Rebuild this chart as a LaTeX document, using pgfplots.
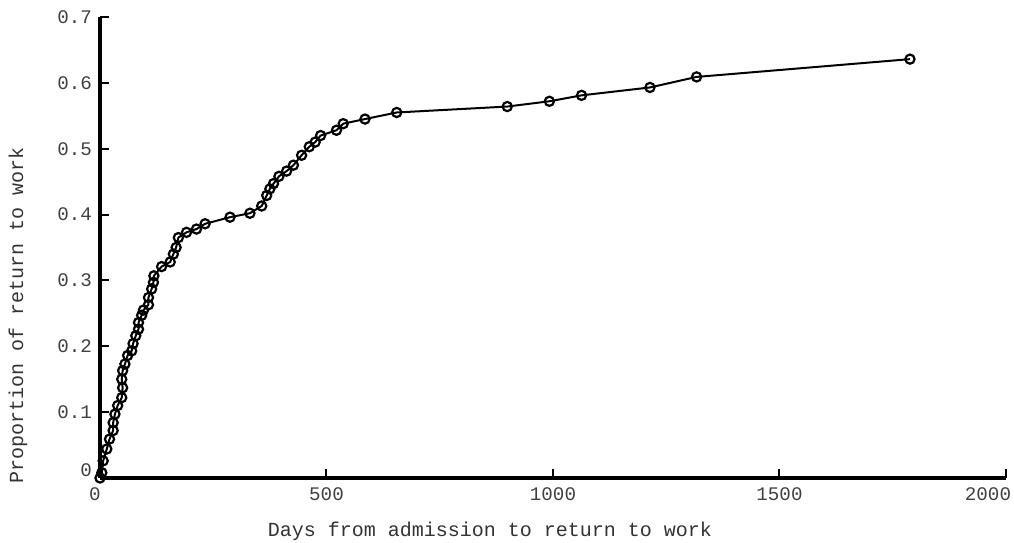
\documentclass[border=0pt]{standalone}
\usepackage{pgfplots}
\pgfplotsset{compat=1.18}
\usepackage{fontspec}
\setmainfont{Liberation Mono}
\setmonofont{Liberation Mono}
\begin{document}
\begin{tikzpicture}
\begin{axis}[
  scale only axis,
  width=453pt, height=230.5pt,
  xmin=0, xmax=2000, ymin=0, ymax=0.7,
  axis lines=left,
  axis line style={-, line width=1.6pt},
  tick style={line width=1pt, black},
  tick align=inside,
  major tick length=4.5pt,
  xtick={0,500,1000,1500,2000},
  xticklabels={\hspace*{-5pt}0,500,1000,1500,\hspace*{-18pt}2000},
  ytick={0,0.1,0.2,0.3,0.4,0.5,0.6,0.7},
  yticklabels={\raisebox{8pt}{0},0.1,0.2,0.3,0.4,0.5,0.6,0.7},
  /pgf/number format/assume math mode=true,
  ticklabel style={font=\fontsize{9.6}{11}\selectfont, text=black!75},
  xticklabel style={yshift=-1.4pt},
  yticklabel style={xshift=-0.5pt},
  xlabel={Days from admission to return to work},
  ylabel={Proportion of return to work},
  label style={font=\fontsize{10}{12}\selectfont, text=black!80},
  xlabel style={at={(axis description cs:0.4305,-0.115)}, anchor=center},
  ylabel style={at={(axis description cs:-0.0905,0.3536)}, anchor=center},
  clip=false,
]
\addplot[black, line width=1pt, mark=o, mark size=2.3pt,
  mark options={fill=white, line width=1.1pt, solid}]
coordinates {
(0,0) (4,0.008) (7,0.026) (15,0.044) (21,0.059) (29,0.072) (29,0.084)
(33,0.097) (39,0.110) (48,0.122) (50,0.137) (48,0.150) (50,0.163)
(55,0.173) (61,0.186) (70,0.193) (73,0.204) (79,0.216) (85,0.226)
(85,0.236) (92,0.247) (96,0.255) (107,0.263) (107,0.274) (114,0.287)
(118,0.297) (119,0.307) (136,0.321) (155,0.328) (162,0.340) (168,0.350)
(173,0.365) (191,0.373) (213,0.378) (232,0.386) (287,0.396) (331,0.402)
(357,0.413) (368,0.429) (375,0.439) (383,0.447) (395,0.458) (412,0.466)
(427,0.475) (445,0.490) (462,0.503) (475,0.510) (487,0.520) (522,0.528)
(537,0.538) (585,0.545) (655,0.555) (899,0.564) (992,0.572) (1063,0.581)
(1214,0.593) (1317,0.609) (1788,0.636)
};
\coordinate (bl) at (rel axis cs:0,0);
\coordinate (tr) at (rel axis cs:1,1);
\end{axis}
\pgfresetboundingbox
\path ([xshift=-50pt,yshift=-32.5pt]bl) rectangle ([xshift=4pt,yshift=8.5pt]tr);
\end{tikzpicture}
\end{document}
